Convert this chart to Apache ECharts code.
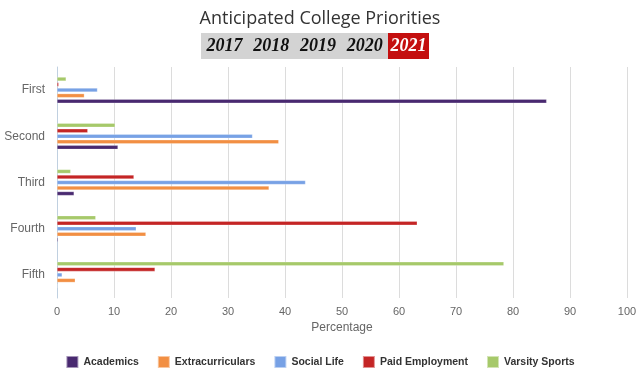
<!DOCTYPE html>
<html>
<head>
<meta charset="utf-8">
<script src="https://cdn.jsdelivr.net/npm/echarts@6/dist/echarts.min.js"></script>
<style>
    html, body {margin: 0; padding: 0; background: #fff;}
    #chartBox {width: 640px; height: 375px;}
</style>
</head>
<body>
<div id="chartBox"></div>
<script>
var categories = ['First', 'Second', 'Third', 'Fourth', 'Fifth'];
var years = ['2017', '2018', '2019', '2020', '2021'];
var academics = [85.9, 10.7, 3.0, 0.2, 0];
var extracurriculars = [4.8, 38.9, 37.2, 15.6, 3.2];
var socialLife = [7.1, 34.3, 43.6, 13.9, 0.9];
var paidEmployment = [0.3, 5.4, 13.5, 63.2, 17.2];
var varsitySports = [1.6, 10.2, 2.4, 6.8, 78.4];
var seriesNames = ['Academics', 'Extracurriculars', 'Social Life', 'Paid Employment', 'Varsity Sports'];
var xTicks = [0, 10, 20, 30, 40, 50, 60, 70, 80, 90, 100];

/**
 * 年份选择条
 */
function yearBar() {
    var items = [];
    var x = 201, w = 187 / 4;
    items.push({type: 'rect', shape: {x: 201, y: 33, width: 187, height: 26}, style: {fill: '#d3d3d3'}});
    items.push({type: 'rect', shape: {x: 388, y: 33, width: 41, height: 26}, style: {fill: '#c40f0f'}});
    for (var i = 0; i < years.length; i++) {
        var last = i == years.length - 1;
        items.push({
            type: 'text',
            x: last ? 408.5 : x + w * i + w / 2,
            y: 46,
            style: {
                text: years[i],
                fill: last ? '#fff' : '#111',
                font: 'italic bold 18px "Liberation Serif"',
                align: 'center',
                verticalAlign: 'middle'
            }
        });
    }
    return items;
}

function bar(name, data, color) {
    return {
        name: name,
        type: 'bar',
        data: data,
        barWidth: 4,
        barGap: '38%',
        itemStyle: {color: color, borderColor: 'rgba(255,255,255,0.5)', borderWidth: 0.5}
    };
}

var myChart = echarts.init(document.getElementById('chartBox'));
var option = {
    animation: false,
    title: {
        text: 'Anticipated College Priorities',
        left: 'center',
        top: 5,
        textStyle: {fontFamily: 'Open Sans', fontWeight: 'normal', fontSize: 18, color: '#333'}
    },
    graphic: yearBar(),
    legend: {
        data: seriesNames,
        bottom: 1,
        left: 'center',
        itemWidth: 12,
        itemHeight: 12,
        itemGap: 18,
        icon: 'rect',
        textStyle: {fontFamily: 'Liberation Sans', fontWeight: 'bold', fontSize: 10.5, color: '#333'}
    },
    grid: {left: 57, right: 13, top: 67, bottom: 77},
    xAxis: {
        type: 'value',
        min: 0,
        max: 100,
        interval: 10,
        name: 'Percentage',
        nameLocation: 'middle',
        nameGap: 22,
        nameTextStyle: {color: '#666', fontSize: 12, fontFamily: 'Liberation Sans'},
        axisLine: {show: false},
        axisTick: {show: false},
        axisLabel: {
            color: '#666', fontSize: 11, fontFamily: 'Liberation Sans', margin: 8,
            formatter: function (v) { return xTicks.indexOf(v) >= 0 ? String(v) : ''; }
        },
        splitLine: {lineStyle: {color: '#dcdcdc', width: 1}}
    },
    yAxis: {
        type: 'category',
        data: categories,
        inverse: true,
        axisLine: {lineStyle: {color: '#c0d0e0'}},
        axisTick: {length: 9, lineStyle: {color: '#c0d0e0'}},
        axisLabel: {color: '#666', fontSize: 12, fontFamily: 'Liberation Sans', margin: 12}
    },
    // 反向轴上先画的系列在上方, 所以倒序
    series: [
        bar(seriesNames[4], varsitySports, '#a6c96a'),
        bar(seriesNames[3], paidEmployment, '#c42525'),
        bar(seriesNames[2], socialLife, '#77a1e5'),
        bar(seriesNames[1], extracurriculars, '#f28f43'),
        bar(seriesNames[0], academics, '#492970')
    ]
};
myChart.setOption(option);
</script>
</body>
</html>
